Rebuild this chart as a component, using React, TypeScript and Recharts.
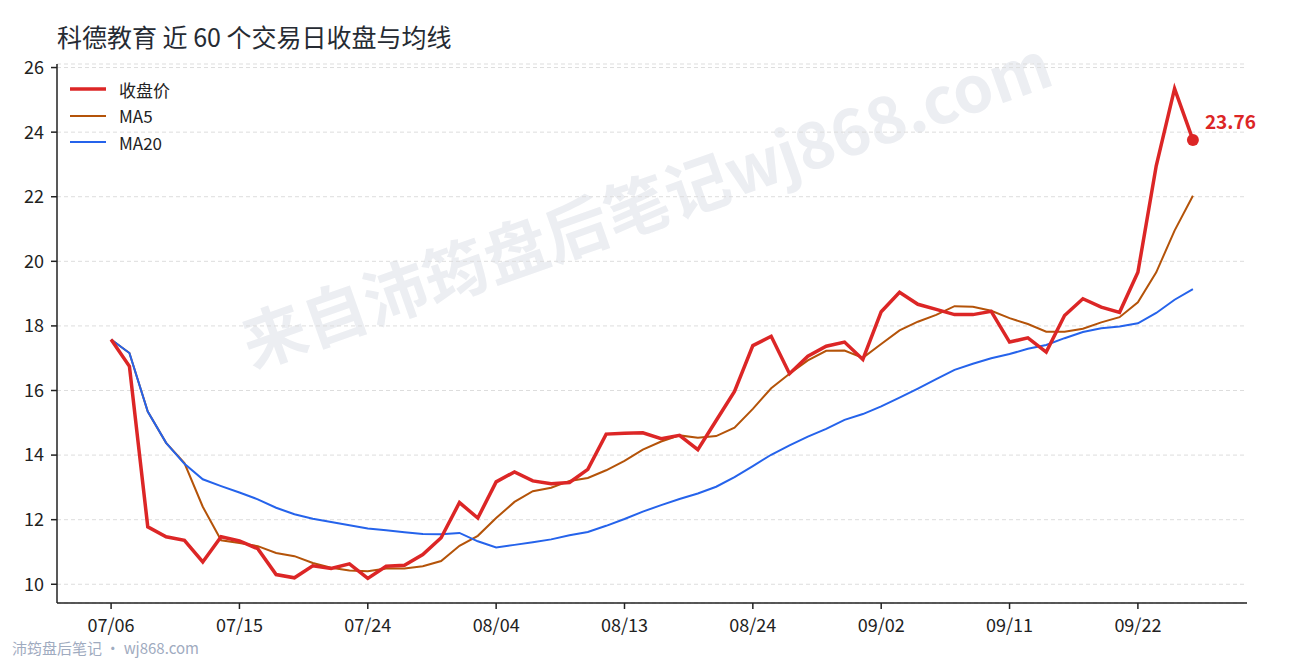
import React from 'react'
import {
  LineChart,
  Line,
  XAxis,
  YAxis,
  CartesianGrid,
} from 'recharts'

const dates = [
  '07/06', '07/07', '07/08', '07/09', '07/10', '07/13', '07/14', '07/15', '07/16', '07/17',
  '07/20', '07/21', '07/22', '07/23', '07/24', '07/27', '07/28', '07/29', '07/30', '07/31',
  '08/03', '08/04', '08/05', '08/06', '08/07', '08/10', '08/11', '08/12', '08/13', '08/14',
  '08/17', '08/18', '08/19', '08/20', '08/21', '08/24', '08/25', '08/26', '08/27', '08/28',
  '08/31', '09/01', '09/02', '09/03', '09/04', '09/07', '09/08', '09/09', '09/10', '09/11',
  '09/14', '09/15', '09/16', '09/17', '09/18', '09/21', '09/22', '09/23', '09/24', '09/25',
]

const close = [
  17.58, 16.75, 11.78, 11.47, 11.36, 10.69, 11.47, 11.34, 11.1, 10.3,
  10.2, 10.57, 10.49, 10.63, 10.18, 10.56, 10.59, 10.92, 11.44, 12.53,
  12.05, 13.17, 13.48, 13.2, 13.11, 13.15, 13.56, 14.65, 14.68, 14.69,
  14.51, 14.61, 14.17, 15.07, 15.97, 17.39, 17.68, 16.52, 17.06, 17.37,
  17.5, 16.96, 18.44, 19.04, 18.67, 18.51, 18.35, 18.35, 18.45, 17.5,
  17.63, 17.19, 18.32, 18.84, 18.58, 18.42, 19.66, 22.96, 25.35, 23.76,
]

const ma5 = [
  17.58, 17.16, 15.35, 14.38, 13.75, 12.4, 11.36, 11.28, 11.18, 10.97,
  10.87, 10.66, 10.51, 10.43, 10.4, 10.49, 10.49, 10.56, 10.72, 11.19,
  11.5, 12.05, 12.55, 12.88, 12.99, 13.2, 13.29, 13.53, 13.82, 14.17,
  14.42, 14.61, 14.54, 14.59, 14.85, 15.43, 16.07, 16.52, 16.93, 17.23,
  17.24, 17.01, 17.44, 17.86, 18.13, 18.34, 18.61, 18.59, 18.47, 18.24,
  18.06, 17.82, 17.82, 17.91, 18.11, 18.27, 18.73, 19.66, 20.95, 22.03,
]

const ma20 = [
  17.58, 17.16, 15.35, 14.38, 13.73, 13.25, 13.04, 12.84, 12.63, 12.37,
  12.17, 12.03, 11.93, 11.83, 11.73, 11.67, 11.61, 11.56, 11.55, 11.59,
  11.33, 11.14, 11.22, 11.3, 11.39, 11.52, 11.62, 11.81, 12.02, 12.25,
  12.45, 12.64, 12.81, 13.02, 13.32, 13.66, 14.01, 14.3, 14.57, 14.81,
  15.09, 15.27, 15.51, 15.78, 16.06, 16.35, 16.64, 16.83, 17.0, 17.13,
  17.29, 17.41, 17.62, 17.81, 17.93, 17.98, 18.08, 18.4, 18.81, 19.14,
]

const xTicks = [0, 7, 14, 21, 28, 35, 42, 49, 56]
const yTicks = [10, 12, 14, 16, 18, 20, 22, 24, 26]

const seriesNames = ['收盘价', 'MA5', 'MA20']
const seriesColors = ['#dc2626', '#b45309', '#2563eb']

const data = dates.map((d, i) => ({ i, date: d, close: close[i], ma5: ma5[i], ma20: ma20[i] }))

const FONT = '"Noto Sans CJK SC", "Noto Sans", sans-serif'
const lastIndex = close.length - 1

const LegendBox = () => (
  <div style={{ position: 'absolute', left: 70, top: 76, fontFamily: FONT, fontSize: 17, color: '#222' }}>
    {seriesNames.map((name, k) => (
      <div key={name} style={{ display: 'flex', alignItems: 'center', height: 26.5 }}>
        <svg width={49} height={10}>
          <line x1={0} y1={5} x2={36} y2={5} stroke={seriesColors[k]} strokeWidth={k === 0 ? 3.5 : 2} />
        </svg>
        <span>{name}</span>
      </div>
    ))}
  </div>
)

const LastDot = (props: any) => {
  const { cx, cy, index } = props
  if (index !== lastIndex) return <g key={'d' + index} />
  return (
    <g key={'d' + index}>
      <circle cx={cx} cy={cy} r={6} fill={seriesColors[0]} />
      <text
        x={cx + 12}
        y={cy - 19}
        dominantBaseline="central"
        fill={seriesColors[0]}
        fontSize={19}
        fontWeight={700}
        fontFamily={FONT}
      >
        {close[index].toFixed(2)}
      </text>
    </g>
  )
}

export default function App() {
  return (
    <div style={{ position: 'absolute', left: 0, top: 0, width: 1290, height: 660, background: '#fff', overflow: 'hidden' }}>
      <div
        style={{
          position: 'absolute',
          left: 645,
          top: 200,
          transform: 'translate(-50%, -50%) rotate(-19.5deg)',
          whiteSpace: 'nowrap',
          fontFamily: FONT,
          fontWeight: 700,
          fontSize: 64,
          color: '#eceef2',
        }}
      >
        来自沛筠盘后笔记wj868.com
      </div>
      <div
        style={{
          position: 'absolute',
          left: 57,
          top: 18,
          fontFamily: FONT,
          fontSize: 25,
          color: '#262b33',
          whiteSpace: 'nowrap',
          lineHeight: '36px',
        }}
      >
        科德教育 近 60 个交易日收盘与均线
      </div>
      <div style={{ position: 'absolute', left: 0, top: 0 }}>
        <LineChart width={1290} height={660} data={data} margin={{ top: 64, right: 43, bottom: 27, left: 0 }}>
          <CartesianGrid vertical={false} stroke="#dddddd" strokeDasharray="4 3" />
          <XAxis
            dataKey="i"
            type="number"
            domain={[-2.95, 61.95]}
            ticks={xTicks}
            tickFormatter={(v: number) => dates[v]}
            height={30}
            tickSize={6}
            tickMargin={10}
            axisLine={{ stroke: '#222', strokeWidth: 1.5 }}
            tickLine={{ stroke: '#222', strokeWidth: 1.5 }}
            tick={{ fill: '#222', fontSize: 18, fontFamily: FONT }}
          />
          <YAxis
            type="number"
            domain={[9.42, 26.11]}
            ticks={yTicks}
            width={57}
            tickSize={6}
            tickMargin={7}
            axisLine={{ stroke: '#222', strokeWidth: 1.5 }}
            tickLine={{ stroke: '#222', strokeWidth: 1.5 }}
            tick={{ fill: '#222', fontSize: 18, fontFamily: FONT }}
          />
          <Line
            dataKey="ma5"
            name="MA5"
            stroke={seriesColors[1]}
            strokeWidth={2}
            dot={false}
            activeDot={false}
            isAnimationActive={false}
          />
          <Line
            dataKey="ma20"
            name="MA20"
            stroke={seriesColors[2]}
            strokeWidth={2}
            dot={false}
            activeDot={false}
            isAnimationActive={false}
          />
          <Line
            dataKey="close"
            name="收盘价"
            stroke={seriesColors[0]}
            strokeWidth={3.5}
            strokeLinejoin="miter"
            dot={LastDot}
            activeDot={false}
            isAnimationActive={false}
          />
        </LineChart>
      </div>
      <LegendBox />
      <div
        style={{
          position: 'absolute',
          left: 12,
          top: 637,
          fontFamily: FONT,
          fontSize: 15,
          color: '#9fabc0',
          whiteSpace: 'nowrap',
          lineHeight: '22px',
        }}
      >
        沛筠盘后笔记 · wj868.com
      </div>
    </div>
  )
}
